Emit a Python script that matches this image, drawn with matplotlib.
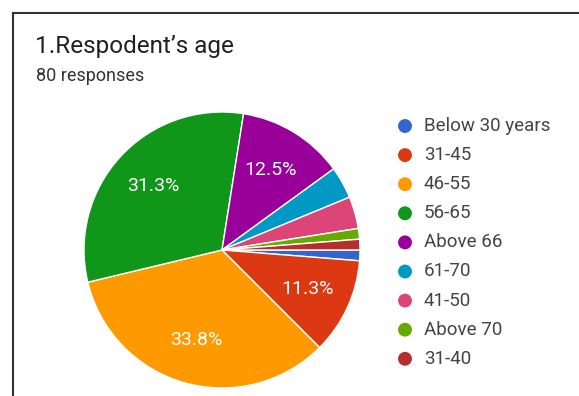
from decimal import Decimal, ROUND_HALF_UP

import matplotlib.pyplot as plt
import numpy as np

labels = ["Below 30 years", "31-45", "46-55", "56-65", "Above 66",
          "61-70", "41-50", "Above 70", "31-40"]
counts = [1, 9, 27, 25, 10, 3, 3, 1, 1]
colors = ["#3366cc", "#dc3912", "#ff9900", "#109618", "#990099",
          "#0099c6", "#dd4477", "#66aa00", "#b82e2e"]

title = "1.Respodent\u2019s age"
subtitle = "80 responses"

W, H = 579, 396


def make_pct_labels(values, min_share=5):
    # round half up like the forms summary does (31.25 -> 31.3)
    total = sum(values)
    out = []
    for v in values:
        share = Decimal(v * 100) / Decimal(total)
        share = share.quantize(Decimal("0.1"), rounding=ROUND_HALF_UP)
        out.append(f"{share}%" if share >= min_share else "")
    return out


def main():
    plt.rcParams["font.family"] = ["Roboto", "DejaVu Sans"]
    fig = plt.figure(figsize=(W / 100, H / 100), dpi=100)
    fig.patch.set_facecolor("white")

    # pie axes: centre (222, 250) px, radius 138 px
    cx, cy, r = 222, 250, 138
    ax = fig.add_axes([(cx - r) / W, (H - cy - r) / H, 2 * r / W, 2 * r / H])
    wedges, _ = ax.pie(
        counts,
        colors=colors,
        startangle=0,
        counterclock=False,
        wedgeprops=dict(edgecolor="white", linewidth=1),
    )
    for w, txt in zip(wedges, make_pct_labels(counts)):
        if not txt:
            continue
        ang = np.deg2rad((w.theta1 + w.theta2) / 2)
        ax.text(0.68 * np.cos(ang), 0.68 * np.sin(ang), txt,
                ha="center", va="center", color="white", fontsize=14)
    ax.set_xlim(-1, 1)
    ax.set_ylim(-1, 1)
    ax.set_aspect("equal")

    # overlay in pixel coordinates for frame and titles
    ov = fig.add_axes([0, 0, 1, 1], zorder=-1)
    ov.set_xlim(0, W)
    ov.set_ylim(H, 0)
    ov.axis("off")
    ov.plot([13, W], [13, 13], color="#333333", linewidth=1.5)
    ov.plot([13, 13], [13, H], color="#333333", linewidth=1.5)

    ov.text(35, 47, title, fontsize=17.5, color="#202124", va="center")
    ov.text(36, 76, subtitle, fontsize=13, color="#333333", va="center")

    # legend
    leg = fig.add_axes([0, 0, 1, 1])
    leg.set_xlim(0, W)
    leg.set_ylim(H, 0)
    leg.axis("off")
    for i, (lab, col) in enumerate(zip(labels, colors)):
        y = 126 + i * 29.1
        leg.scatter([405], [y], s=100, color=col, edgecolors="none")
        leg.text(424, y, lab, fontsize=13.5, color="#444444", va="center")

    fig.savefig("out.png", dpi=100)


if __name__ == "__main__":
    main()
